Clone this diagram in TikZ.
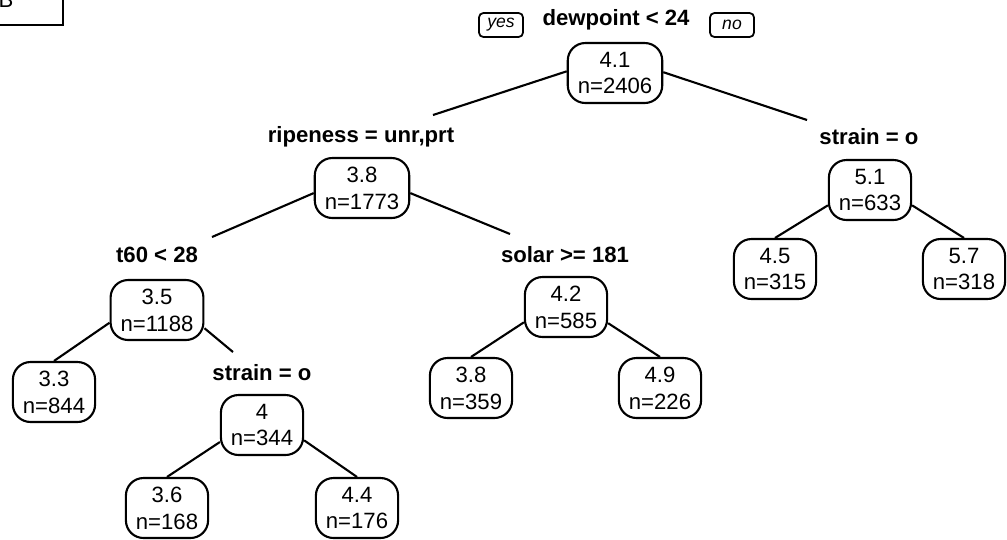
\documentclass[tikz,border=0pt]{standalone}
\usepackage{fontspec}
\setmainfont{Liberation Sans}
\usepackage{tikz}
\usetikzlibrary{positioning}

\begin{document}
\begin{tikzpicture}[x=0.02cm,y=-0.02cm,
  box/.style={draw,line width=1.2pt,rounded corners=10pt,align=center,
    minimum height=1.2cm,inner xsep=0.2cm,font=\fontsize{12.6}{15.3}\selectfont},
  split/.style={anchor=base,inner sep=0pt,font=\fontsize{12.6}{15}\selectfont\bfseries},
  tag/.style={draw,line width=1pt,rounded corners=2.5pt,minimum width=0.88cm,
    minimum height=0.48cm,inner sep=1pt,font=\fontsize{10}{12}\selectfont\itshape},
  branch/.style={line width=1.2pt}]
\useasboundingbox (0,0) rectangle (1007,539);

% panel letter
\draw[line width=1.2pt] (-10,-10) rectangle (63,25);
\node[anchor=base,inner sep=0pt,font=\fontsize{12.6}{15}\selectfont] (panel) at (6,7) {B};

% split labels
\node[split] (sroot) at (616,25) {dewpoint < 24};
\node[tag] (yes) at (501,25) {yes};
\node[tag] (no) at (732,25) {no};
\node[split] (srip) at (361,142) {ripeness = unr,prt};
\node[split] (sstrR) at (869,144) {strain = o};
\node[split] (st60) at (157,262) {t60 < 28};
\node[split] (ssol) at (565,262) {solar >= 181};
\node[split] (sstrL) at (262,380) {strain = o};

% inner nodes
\node[box] (root) at (615,73) {4.1\\n=2406};
\node[box] (rip) at (362,188) {3.8\\n=1773};
\node[box] (strR) at (870,190) {5.1\\n=633};
\node[box] (t60) at (157,310) {3.5\\n=1188};
\node[box] (sol) at (566,307) {4.2\\n=585};
\node[box] (strL) at (262,425) {4\\n=344};

% leaves
\node[box] (l1) at (54,392) {3.3\\n=844};
\node[box] (l2) at (167,508) {3.6\\n=168};
\node[box] (l3) at (357,508) {4.4\\n=176};
\node[box] (l4) at (471,388) {3.8\\n=359};
\node[box] (l5) at (660,388) {4.9\\n=226};
\node[box] (l6) at (775,269) {4.5\\n=315};
\node[box] (l7) at (964,269) {5.7\\n=318};

% branch ends
\coordinate (e1) at (433,115);
\coordinate (e2) at (807,120);
\coordinate (e3) at (212,237);
\coordinate (e4) at (510,234);
\coordinate (e5) at (233,352);

\draw[branch] (root.178) -- (e1);
\draw[branch] (root.1) -- (e2);
\draw[branch] (rip.186) -- (e3);
\draw[branch] (rip.354) -- (e4);
\draw[branch] (t60.195) -- (l1.north);
\draw[branch] (t60.339) -- (e5);
\draw[branch] (sol.200) -- (l4.north);
\draw[branch] (sol.339) -- (l5.north);
\draw[branch] (strR.200) -- (l6.north);
\draw[branch] (strR.340) -- (l7.north);
\draw[branch] (strL.202) -- (l2.north);
\draw[branch] (strL.340) -- (l3.north);
\end{tikzpicture}
\end{document}
